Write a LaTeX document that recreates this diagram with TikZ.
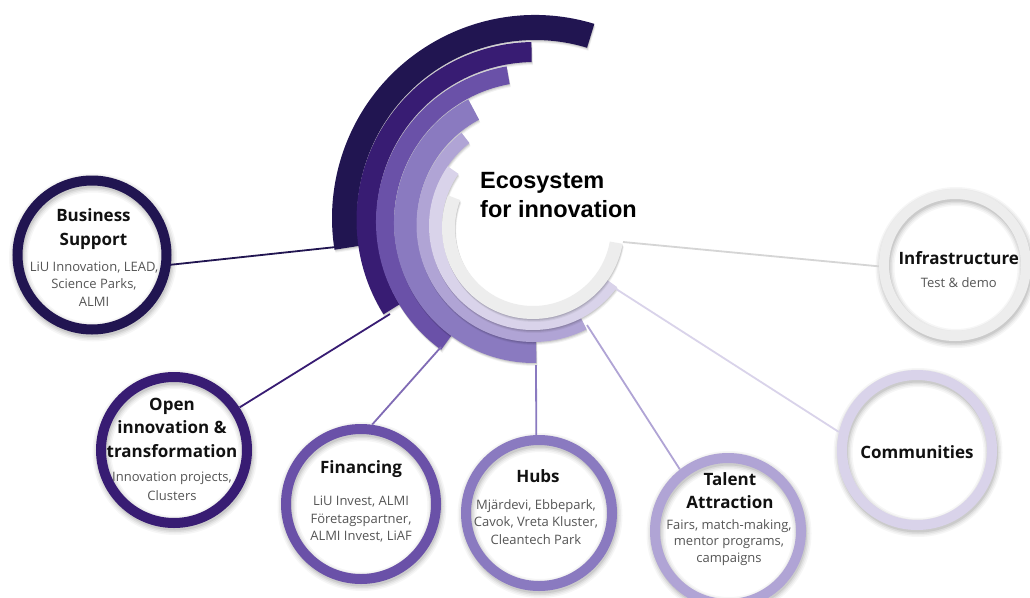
\documentclass[tikz,border=0pt]{standalone}
\usepackage{fontspec}
\setmainfont{Open Sans}
\newfontfamily\ecofont{Liberation Sans}
\definecolor{cA}{HTML}{211551}
\definecolor{cB}{HTML}{381C73}
\definecolor{cC}{HTML}{6A51A8}
\definecolor{cD}{HTML}{8A7AC0}
\definecolor{cE}{HTML}{B0A4D5}
\definecolor{cF}{HTML}{D9D3EA}
\definecolor{cG}{HTML}{EDEDED}
\definecolor{bodygray}{HTML}{555555}
\definecolor{titleblack}{HTML}{111111}

% ring band: cx, cy(screen), r inner, r outer, start angle, end angle, colour
\newcommand\arcband[7]{%
  \foreach \s/\o in {3/0.05,2/0.07,1/0.09}{%
    \fill[black,opacity=\o] ([shift={(#5:#4)}]#1+0.4*\s,-#2-\s) arc[start angle=#5,end angle=#6,radius=#4]
      -- ([shift={(#6:#3)}]#1+0.4*\s,-#2-\s) arc[start angle=#6,end angle=#5,radius=#3] -- cycle;}
  \fill[#7] ([shift={(#5:#4)}]#1,-#2) arc[start angle=#5,end angle=#6,radius=#4]
    -- ([shift={(#6:#3)}]#1,-#2) arc[start angle=#6,end angle=#5,radius=#3] -- cycle;
}
% bubble: name, cx, cy(screen), outer radius, colour
\newcommand\bubble[5]{%
  \node[circle, fill=white, inner sep=0pt, minimum size=2*#4] (#1) at (#2,-#3) {};
  \foreach \w/\o in {9/0.035,6/0.045,3/0.06,0/0.08}{%
    \draw[black, opacity=\o, line width=10+\w] (#2+1,-#3-2.5) circle[radius=#4-5];}
  \draw[#5, line width=10] (#1.center) circle[radius=#4-5];
}

\begin{document}
\begin{tikzpicture}[x=1pt,y=1pt,
  ttl/.style={font=\bfseries\fontsize{17}{23.5}\selectfont, align=center, anchor=north, inner sep=0pt, text=titleblack},
  bdy/.style={font=\fontsize{13}{17.5}\selectfont, align=center, anchor=north, inner sep=0pt, text=bodygray},
  link/.style={line width=1.8pt}]
\useasboundingbox (0,0) rectangle (1030,-597);
\fill[white] (0,0) rectangle (1030,-597);

% rings, outermost first
\arcband{535}{218}{178}{203}{73}{189}{cA}
\arcband{534.5}{220}{158}{178}{91}{212}{cB}
\arcband{534}{222}{140}{158}{100}{234}{cC}
\arcband{534}{223}{117}{140}{118}{271}{cD}
\arcband{533.5}{225}{104}{117}{128}{297}{cE}
\arcband{533}{226}{91}{104}{145}{324}{cF}
\arcband{533}{228}{78}{91}{159}{350}{cG}

% centre text
\node[font=\ecofont\bfseries\fontsize{23.5}{29}\selectfont, align=left, anchor=north west, inner sep=0pt] (eco) at (480,-172.5) {Ecosystem\\for innovation};

% ring end points
\coordinate (e1) at (336,-247);
\coordinate (e2) at (390,-314);
\coordinate (e3) at (441,-347);
\coordinate (e4) at (536,-365);
\coordinate (e5) at (587,-325);
\coordinate (e6) at (613,-287);
\coordinate (e7) at (623,-242);

% bubbles
\bubble{bs}{92}{255}{79.5}{cA}
\bubble{oi}{174}{450}{78}{cB}
\bubble{fi}{361}{504}{80}{cC}
\bubble{hubs}{539}{513}{78}{cD}
\bubble{ta}{728}{531}{78}{cE}
\bubble{co}{917}{450}{80}{cF}
\bubble{inf}{955}{265}{76}{cG}

% connectors
\draw[link, cA] (e1) -- (bs.-7);
\draw[link, cB] (e2) -- (oi.33);
\draw[link, cC!85!white] (e3) -- (fi.82);
\draw[link, cD] (e4) -- (hubs.92);
\draw[link, cE] (e5) -- (ta.128);
\draw[link, cF] (e6) -- (co.167);
\draw[link, cG!90!black] (e7) -- (inf.181);

% texts
\node[ttl] (bsT) at (93.5,-208.8) {Business\\Support};
\node[bdy] (bsB) at (94,-261.5) {LiU Innovation, LEAD,\\Science Parks,\\ALMI};
\node[ttl] (oiT) at (172,-397.5) {Open\\innovation \&\\transformation};
\node[bdy, font=\fontsize{13}{19}\selectfont] (oiB) at (172,-471.8) {Innovation projects,\\Clusters};
\node[ttl] (fiT) at (361,-460) {Financing};
\node[bdy, font=\fontsize{13}{17.3}\selectfont] (fiB) at (361,-496) {LiU Invest, ALMI\\Företagspartner,\\ALMI Invest, LiAF};
\node[ttl] (hubsT) at (538,-469.5) {Hubs};
\node[bdy] (hubsB) at (536,-499) {Mjärdevi, Ebbepark,\\Cavok, Vreta Kluster,\\Cleantech Park};
\node[ttl, font=\bfseries\fontsize{17}{22.7}\selectfont] (taT) at (730,-472.8) {Talent\\Attraction};
\node[bdy, font=\fontsize{13}{16.7}\selectfont] (taB) at (729,-519) {Fairs, match-making,\\mentor programs,\\campaigns};
\node[ttl] (coT) at (917,-445.5) {Communities};
\node[ttl] (inT) at (958.8,-251) {Infrastructure};
\node[bdy] (inB) at (958.8,-277.5) {Test \& demo};
\end{tikzpicture}
\end{document}
